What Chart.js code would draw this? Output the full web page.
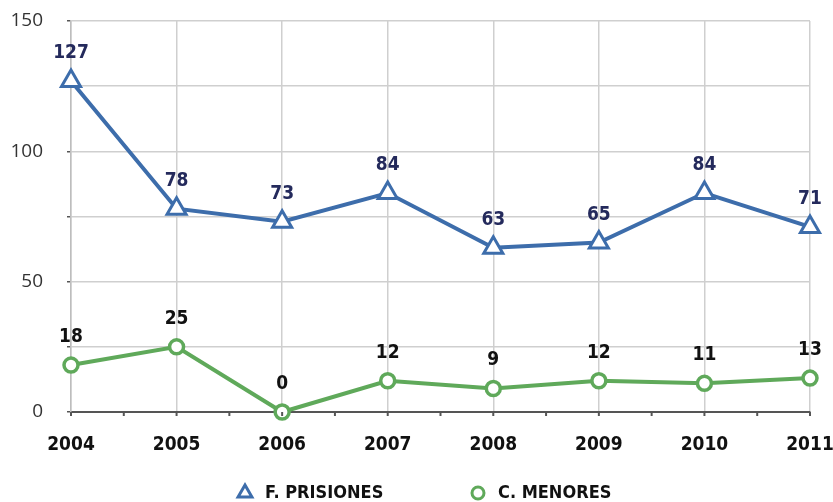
<!DOCTYPE html>
<html>
<head>
<meta charset="utf-8">
<script src="https://cdn.jsdelivr.net/npm/chart.js@4/dist/chart.umd.min.js"></script>
<style>
  html, body { margin: 0; padding: 0; background: #fff; }
  #wrap { width: 833px; height: 502px; }
</style>
</head>
<body>
<div id="wrap"><canvas id="c" width="833" height="502"></canvas></div>
<script>
// Años y series
const years = ['2004', '2005', '2006', '2007', '2008', '2009', '2010', '2011'];
const prisiones = [127, 78, 73, 84, 63, 65, 84, 71];
const menores = [18, 25, 0, 12, 9, 12, 11, 13];
const yTicks = [0, 50, 100, 150];

const BLUE = '#3d6dab';
const GREEN = '#5fa95a';
const BOLD_FONT = '"DejaVu Sans Condensed", "DejaVu Sans", sans-serif';

// Etiquetas de valor encima de cada punto
const valueLabels = {
  id: 'valueLabels',
  afterDatasetsDraw(chart) {
    const ctx = chart.ctx;
    ctx.save();
    ctx.font = 'bold 19px ' + BOLD_FONT;
    ctx.textAlign = 'center';
    ctx.textBaseline = 'middle';
    chart.data.datasets.forEach((ds, di) => {
      const meta = chart.getDatasetMeta(di);
      ctx.fillStyle = ds.labelColor;
      meta.data.forEach((pt, i) => {
        ctx.fillText(String(ds.data[i]), pt.x, pt.y - 28);
      });
    });
    ctx.restore();
  }
};

// Marcas del eje X en cada categoría y a mitad de camino
const minorTicks = {
  id: 'minorTicks',
  afterDraw(chart) {
    const x = chart.scales.x;
    const bottom = chart.chartArea.bottom;
    const ctx = chart.ctx;
    ctx.save();
    ctx.strokeStyle = '#555';
    ctx.lineWidth = 2;
    for (let i = 0; i < years.length; i++) {
      const xs = [x.getPixelForValue(i)];
      if (i < years.length - 1) xs.push((x.getPixelForValue(i) + x.getPixelForValue(i + 1)) / 2);
      xs.forEach(px => {
        ctx.beginPath();
        ctx.moveTo(px, bottom);
        ctx.lineTo(px, bottom + 4);
        ctx.stroke();
      });
    }
    ctx.restore();
  }
};

// Leyenda inferior con el símbolo de cada serie
const bottomLegend = {
  id: 'bottomLegend',
  afterDraw(chart) {
    const ctx = chart.ctx;
    const y = 493;
    const items = [{ ds: 0, x: 245 }, { ds: 1, x: 478 }];
    ctx.save();
    ctx.font = 'bold 18px ' + BOLD_FONT;
    ctx.textAlign = 'left';
    ctx.textBaseline = 'middle';
    items.forEach(it => {
      const ds = chart.data.datasets[it.ds];
      ctx.fillStyle = '#ffffff';
      ctx.strokeStyle = ds.borderColor;
      ctx.lineWidth = 3;
      ctx.beginPath();
      if (ds.pointStyle === 'triangle') {
        const r = 8;
        ctx.moveTo(it.x, y - r);
        ctx.lineTo(it.x + r * Math.cos(Math.PI / 6), y + r / 2);
        ctx.lineTo(it.x - r * Math.cos(Math.PI / 6), y + r / 2);
        ctx.closePath();
      } else {
        ctx.arc(it.x, y, 6, 0, Math.PI * 2);
      }
      ctx.fill();
      ctx.stroke();
      ctx.fillStyle = '#111';
      ctx.fillText(ds.label, it.x + 20, y);
    });
    ctx.restore();
  }
};

new Chart(document.getElementById('c'), {
  type: 'line',
  data: {
    labels: years,
    datasets: [
      {
        label: 'F. PRISIONES',
        data: prisiones,
        borderColor: BLUE,
        backgroundColor: '#ffffff',
        borderWidth: 4,
        pointStyle: 'triangle',
        pointRadius: 11,
        pointBorderWidth: 3,
        pointBackgroundColor: '#ffffff',
        pointBorderColor: BLUE,
        tension: 0,
        labelColor: '#242a5c'
      },
      {
        label: 'C. MENORES',
        data: menores,
        borderColor: GREEN,
        backgroundColor: '#ffffff',
        borderWidth: 4,
        pointStyle: 'circle',
        pointRadius: 7,
        pointBorderWidth: 3.5,
        pointBackgroundColor: '#ffffff',
        pointBorderColor: GREEN,
        tension: 0,
        labelColor: '#111111'
      }
    ]
  },
  options: {
    responsive: false,
    animation: false,
    clip: false,
    layout: { padding: 0 },
    plugins: {
      tooltip: { enabled: false },
      legend: { display: false }
    },
    scales: {
      x: {
        offset: false,
        afterFit(s) {
          s.height = 90;
          s.paddingLeft = 0;
          s.paddingRight = 23;
        },
        grid: { color: '#cfcfcf', lineWidth: 1.5, drawTicks: false },
        border: { color: '#555', width: 2 },
        ticks: {
          color: '#111',
          padding: 22,
          maxRotation: 0,
          autoSkip: false,
          font: { family: BOLD_FONT, weight: 'bold', size: 19 }
        }
      },
      y: {
        min: 0,
        max: 150,
        afterFit(s) {
          s.width = 71;
          s.paddingTop = 21;
          s.paddingBottom = 0;
        },
        afterBuildTicks(s) {
          const t = [];
          for (let v = 0; v <= 150; v += 25) t.push({ value: v });
          s.ticks = t;
        },
        grid: { color: '#cfcfcf', lineWidth: 1.5, tickLength: 4, tickColor: '#555' },
        border: { color: '#bdbdbd', width: 1.5 },
        ticks: {
          color: '#333',
          padding: 24,
          font: { family: '"Open Sans"', size: 19 },
          callback: v => yTicks.includes(v) ? String(v) : ''
        }
      }
    }
  },
  plugins: [valueLabels, minorTicks, bottomLegend]
});
</script>
</body>
</html>
